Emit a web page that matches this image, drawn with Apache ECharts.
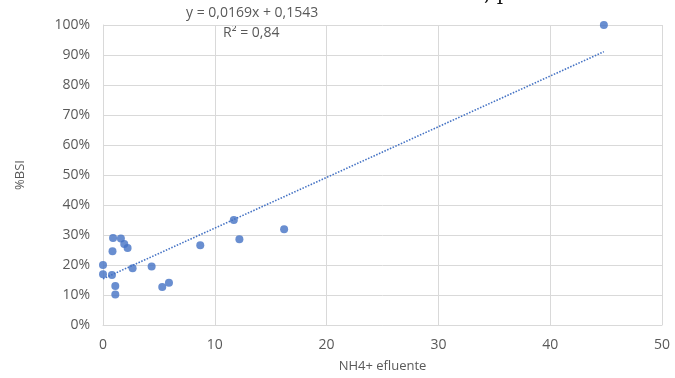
<!DOCTYPE html>
<html>
<head>
<meta charset="utf-8">
<script src="https://cdn.jsdelivr.net/npm/echarts@6/dist/echarts.min.js"></script>
<style>
  html, body { margin: 0; padding: 0; background: #ffffff; }
  #chart { width: 675px; height: 378px; }
</style>
</head>
<body>
<div id="chart"></div>
<script>
// NH4+ efluente (x) vs %BSI (y)
const nh4 = [0.0, 0.0, 0.8, 0.9, 0.85, 1.1, 1.1, 1.6, 1.9, 2.2, 2.65, 4.35, 5.3, 5.9, 8.7, 11.7, 12.2, 16.2, 44.8];
const bsi = [20.0, 16.9, 16.7, 29.0, 24.6, 13.0, 10.2, 28.8, 27.0, 25.7, 18.9, 19.5, 12.7, 14.1, 26.6, 35.0, 28.6, 31.9, 100.0];

// linear trend endpoints (y = 0,0169x + 0,1543)
const trendX = [0.0, 44.8];
const trendY = [15.4, 91.1];

const xTicks = [0, 10, 20, 30, 40, 50];
const yTicks = [0, 10, 20, 30, 40, 50, 60, 70, 80, 90, 100];

const eqText = 'y = 0,0169x + 0,1543';
const r2Text = 'R² = 0,84';

const points = nh4.map((x, i) => [x, bsi[i]]);
const trend = trendX.map((x, i) => [x, trendY[i]]);

const gray = '#595959';
const gridColor = '#d9d9d9';
const blue = '#4472C4';

const chart = echarts.init(document.getElementById('chart'), null, { renderer: 'canvas' });

chart.setOption({
  backgroundColor: '#ffffff',
  animation: false,
  textStyle: { fontFamily: 'Open Sans' },
  grid: { left: 103, right: 13, top: 25, bottom: 51 },
  xAxis: {
    type: 'value',
    min: xTicks[0],
    max: xTicks[xTicks.length - 1],
    interval: 10,
    name: 'NH4+ efluente',
    nameLocation: 'middle',
    nameGap: 35,
    nameTextStyle: { color: gray, fontSize: 13 },
    axisLine: { show: true, lineStyle: { color: gridColor } },
    axisTick: { show: false },
    axisLabel: { color: gray, fontSize: 14, margin: 13 },
    splitLine: { show: true, lineStyle: { color: gridColor, width: 1 } }
  },
  yAxis: {
    type: 'value',
    min: yTicks[0],
    max: yTicks[yTicks.length - 1],
    interval: 10,
    name: '%BSI',
    nameLocation: 'middle',
    nameGap: 76,
    nameRotate: 90,
    nameTextStyle: { color: gray, fontSize: 13 },
    axisLine: { show: true, lineStyle: { color: gridColor } },
    axisTick: { show: false },
    axisLabel: { color: gray, fontSize: 14, margin: 13, formatter: '{value}%' },
    splitLine: { show: true, lineStyle: { color: gridColor, width: 1 } }
  },
  graphic: [
    {
      type: 'text', left: 186, top: 6,
      style: { text: eqText, fill: gray, fontSize: 14, fontFamily: 'Open Sans' }
    },
    {
      type: 'text', left: 223, top: 26,
      style: { text: r2Text, fill: gray, fontSize: 14, fontFamily: 'Open Sans' }
    },
    {
      // clipped caption text from the page above the figure
      type: 'text', left: 484, top: -15,
      style: { text: ', p', fill: '#111111', fontSize: 20, fontFamily: 'DejaVu Serif' }
    }
  ],
  series: [
    {
      type: 'line',
      data: trend,
      showSymbol: false,
      symbol: 'none',
      lineStyle: { color: blue, width: 1.6, type: [1.5, 1.5] },
      z: 2
    },
    {
      type: 'scatter',
      data: points,
      symbol: 'circle',
      symbolSize: 8,
      itemStyle: { color: blue },
      z: 3
    }
  ]
});
</script>
</body>
</html>
